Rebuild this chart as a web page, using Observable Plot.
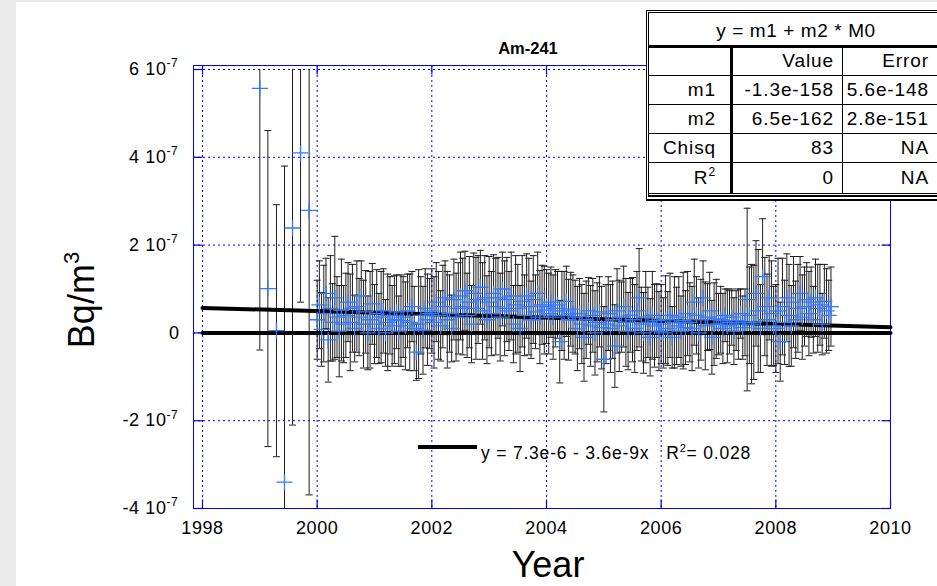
<!DOCTYPE html>
<html><head><meta charset="utf-8">
<script src="https://cdn.jsdelivr.net/npm/d3@7"></script>
<script src="https://cdn.jsdelivr.net/npm/@observablehq/plot@0.6"></script>
<style>
html,body{margin:0;padding:0;}
body{width:937px;height:586px;background:#ebebeb;position:relative;overflow:hidden;font-family:"Liberation Sans",Arial,Helvetica,sans-serif;}
#panel{position:absolute;left:16px;top:2px;width:921px;height:584px;background:#fff;}
#chart{position:absolute;left:16px;top:2px;}
.abs{position:absolute;white-space:nowrap;color:#000;line-height:1;}
.ln{position:absolute;background:#000;}
#tbl{position:absolute;left:646px;top:10px;width:300px;height:191px;box-sizing:border-box;border:3px double #000;border-bottom:6px double #000;background:#fff;}
.cell{position:absolute;white-space:nowrap;font-size:19px;letter-spacing:0.9px;text-align:right;}
</style></head><body>
<div id="panel"></div>
<div id="chart"></div>
<div id="overlay"></div>
<script>
// ---- data (values and errors in units of 1e-9 Bq/m3) ----
const UNIT = 1e-9;
const earlyYears  = [1999.0, 1999.14, 1999.29, 1999.43, 1999.57, 1999.71, 1999.86];
const earlyValues = [557, 101, 5, -340, 239, 410, 279];
const earlyErrors = [596, 360, 287, 720, 449, 340, 648];

const mainStart = 2000;
const samplesPerYear = 26; // biweekly samples
const mainValues = [
 30,64,8,44,90,-16,56,24,80,36,4,52,20,
 40,70,24,56,10,60,36,84,20,48,0,30,66,
 20,44,10,36,50,0,24,40,16,30,48,4,28,
 36,16,50,24,60,10,-44,20,40,6,56,30,44,
 50,24,70,40,16,60,80,30,44,10,76,36,56,
 84,60,96,40,70,20,90,56,76,104,50,80,30,
 70,44,90,60,80,36,100,56,76,50,84,20,64,
 56,10,72,40,84,60,30,76,48,90,36,64,52,
 60,44,70,36,56,64,-20,50,40,72,30,54,44,
 36,10,44,20,-10,30,50,16,40,0,24,48,12,
 -60,20,44,10,30,-30,50,16,36,60,24,4,40,
 30,10,50,80,20,0,36,24,-10,40,16,28,4,
 20,0,30,10,40,-10,24,16,36,4,28,12,44,
 24,10,70,40,0,30,80,16,36,50,-10,20,32,
 20,30,10,40,16,24,36,4,28,20,44,12,24,
 76,40,20,24,90,50,10,128,60,30,80,44,16,
 10,50,-20,60,24,80,40,16,70,30,56,90,36,
 60,76,44,70,30,80,56,64,20,72,50,40,60
];
const mainErrors = [
 90,100,84,110,80,96,120,88,140,92,104,116,88,
 96,90,110,100,76,104,88,80,100,94,84,110,92,
 90,100,80,104,96,76,110,88,92,100,84,80,104,
 92,100,84,110,80,96,64,124,88,100,90,104,80,
 96,104,90,100,80,94,84,110,88,76,92,100,104,
 100,110,90,96,104,88,92,116,100,84,110,96,100,
 104,96,88,110,92,100,84,108,96,90,100,88,112,
 100,98,104,92,96,110,88,100,84,94,106,90,100,
 84,92,80,96,88,76,94,90,100,80,92,84,88,
 84,96,80,90,100,88,76,92,84,96,90,80,94,
 120,90,84,100,88,94,96,104,80,92,100,88,84,
 96,100,90,112,84,92,104,80,88,100,94,84,90,
 90,80,100,84,96,70,104,88,92,80,110,84,96,
 90,96,98,88,80,92,84,100,76,88,84,94,90,
 70,76,80,60,84,72,64,76,68,80,56,72,76,
 208,110,136,130,120,140,100,132,112,104,96,120,90,
 100,120,90,110,96,100,116,92,104,88,100,84,96,
 90,84,96,80,76,88,100,92,70,84,96,80,90
];

// linear fit (as drawn) and the m1 + m2*M0 fit
const fitYears  = [1998, 2010];
const fitValues = [5.7e-8, 1.3e-8];
const zeroFitValues = [0, 0];

// axes
const xDomain = [1998, 2010];
const yDomain = [-4e-7, 6e-7];
const xTicks = [1998, 2000, 2002, 2004, 2006, 2008, 2010];
const xGrid  = [1998, 2000, 2002, 2004, 2006, 2008];
const yTicks = [-4e-7, -2e-7, 0, 2e-7, 4e-7, 6e-7];
const yGrid  = [-2e-7, 0, 2e-7, 4e-7, 6e-7];
const yTickMantissa = ["-4 10", "-2 10", "0", "2 10", "4 10", "6 10"];
const yTickExponent = ["-7", "-7", "", "-7", "-7", "-7"];

// texts
const titleText = "Am-241";
const xLabel = "Year";
const yLabelMain = "Bq/m";
const yLabelSup = "3";
const legendText = "y = 7.3e-6 - 3.6e-9x";
const legendR2 = "= 0.028";

// fit table
const tableTitle = "y = m1 + m2 * M0";
const tableHeader = ["", "Value", "Error"];
const tableRowLabels = ["m1", "m2", "Chisq", "R"];
const tableRowSup = ["", "", "", "2"];
const tableValues = ["-1.3e-158", "6.5e-162", "83", "0"];
const tableErrors = ["5.6e-148", "2.8e-151", "NA", "NA"];

// ---- build records ----
const records = [];
earlyYears.forEach((y, i) => records.push({year: y, value: earlyValues[i]*UNIT, err: earlyErrors[i]*UNIT}));
mainValues.forEach((v, i) => records.push({year: mainStart + i/samplesPerYear, value: v*UNIT, err: mainErrors[i]*UNIT}));
records.forEach(d => { d.lo = d.value - d.err; d.hi = d.value + d.err; });
const yMin = yDomain[0], yMax = yDomain[1];
const hiCaps = records.filter(d => d.hi <= yMax && d.hi >= yMin);
const loCaps = records.filter(d => d.lo >= yMin && d.lo <= yMax);
const fit = fitYears.map((x, i) => ({x, y: fitValues[i]}));
const zfit = fitYears.map((x, i) => ({x, y: zeroFitValues[i]}));
const yLab = yTicks.map((v, i) => ({v, m: yTickMantissa[i], e: yTickExponent[i]}));

// ---- symbols ----
const sym = (f) => ({draw: f});
const crossSym = sym(c => { c.moveTo(-8,0); c.lineTo(8,0); c.moveTo(0,-8); c.lineTo(0,8); });
const capSym   = sym(c => { c.moveTo(-3.5,0); c.lineTo(3.5,0); });
const tRight   = sym(c => { c.moveTo(0,0); c.lineTo(9,0); });
const tLeft    = sym(c => { c.moveTo(0,0); c.lineTo(-9,0); });
const tUp      = sym(c => { c.moveTo(0,0); c.lineTo(0,-9); });
const tDown    = sym(c => { c.moveTo(0,0); c.lineTo(0,9); });

const BLUE = "#0000ff";
const CROSS = "#3278ff";
const BAR = "#1e1e1e";

const plot = Plot.plot({
  width: 921, height: 584,
  marginLeft: 177, marginRight: 47, marginTop: 63, marginBottom: 78,
  insetLeft: 9, insetTop: 4,
  x: {domain: xDomain, axis: null},
  y: {domain: yDomain, axis: null},
  style: {fontFamily: "'Liberation Sans', Arial, sans-serif", background: "transparent", letterSpacing: "0.6px", overflow: "visible"},
  marks: [
    Plot.ruleX(xGrid, {x: d => d, stroke: BLUE, strokeDasharray: "2,3", strokeWidth: 1}),
    Plot.ruleY(yGrid, {y: d => d, stroke: BLUE, strokeDasharray: "2,3", strokeWidth: 1}),
    Plot.frame({stroke: BLUE, strokeWidth: 1}),
    Plot.dot(yTicks, {y: d => d, frameAnchor: "left", symbol: tRight, r: 3, stroke: BLUE, fill: "none", strokeWidth: 1.2}),
    Plot.dot(yTicks, {y: d => d, frameAnchor: "right", symbol: tLeft, r: 3, stroke: BLUE, fill: "none", strokeWidth: 1.2}),
    Plot.dot(xTicks, {x: d => d, frameAnchor: "bottom", symbol: tUp, r: 3, stroke: BLUE, fill: "none", strokeWidth: 1.2}),
    Plot.dot(xTicks, {x: d => d, frameAnchor: "top", symbol: tDown, r: 3, stroke: BLUE, fill: "none", strokeWidth: 1.2}),
    // tick labels
    Plot.text(xTicks, {x: d => d, text: d => String(d), frameAnchor: "bottom", lineAnchor: "top", dy: 13, fontSize: 18, fill: "#000"}),
    Plot.text(yLab.filter(d => d.e), {y: "v", text: "m", frameAnchor: "left", textAnchor: "end", dx: -27, fontSize: 18, fill: "#000"}),
    Plot.text(yLab.filter(d => d.e), {y: "v", text: "e", frameAnchor: "left", textAnchor: "start", dx: -27, dy: -6, fontSize: 12, fill: "#000"}),
    Plot.text(yLab.filter(d => !d.e), {y: "v", text: "m", frameAnchor: "left", textAnchor: "end", dx: -14, fontSize: 18, fill: "#000"}),
    // error bars
    Plot.ruleX(records, {x: "year", y1: d => Math.max(d.lo, yMin), y2: d => Math.min(d.hi, yMax), stroke: BAR, strokeWidth: 1}),
    Plot.dot(hiCaps, {x: "year", y: "hi", symbol: capSym, r: 3, stroke: BAR, fill: "none", strokeWidth: 1}),
    Plot.dot(loCaps, {x: "year", y: "lo", symbol: capSym, r: 3, stroke: BAR, fill: "none", strokeWidth: 1}),
    // fits
    Plot.line(zfit, {x: "x", y: "y", stroke: "#000", strokeWidth: 4}),
    Plot.line(fit, {x: "x", y: "y", stroke: "#000", strokeWidth: 4}),
    // data crosses
    Plot.dot(records, {x: "year", y: "value", symbol: crossSym, r: 3, stroke: CROSS, fill: "none", strokeWidth: 1.3})
  ]
});
document.getElementById("chart").appendChild(plot);

// ---- overlay texts, legend, table ----
const ov = document.getElementById("overlay");
function add(html, style, cls) {
  const d = document.createElement("div");
  d.className = cls || "abs";
  d.innerHTML = html;
  Object.assign(d.style, style);
  ov.appendChild(d);
  return d;
}
add(titleText, {left: "528px", top: "40px", fontSize: "16.5px", fontWeight: "bold", transform: "translateX(-50%)"});
add(xLabel, {left: "548px", top: "547px", fontSize: "36px", transform: "translateX(-50%)"});
add(yLabelMain + '<span style="font-size:22px;position:relative;top:-15px">' + yLabelSup + '</span>',
    {left: "82px", top: "300px", fontSize: "36px", transform: "translate(-50%,-50%) rotate(-90deg)"});
add("", {left: "418px", top: "445px", width: "59px", height: "4px"}, "ln");
add(legendText + '&nbsp;&nbsp; R<span style="font-size:11px;position:relative;top:-7px">2</span>' + legendR2,
    {left: "481px", top: "444.5px", fontSize: "17.5px", letterSpacing: "0.8px"});

// table
const tbl = document.createElement("div");
tbl.id = "tbl";
document.body.appendChild(tbl);
function tline(l, t, w, h) {
  const d = document.createElement("div");
  d.className = "ln";
  Object.assign(d.style, {left: (l-646)+"px", top: (t-10)+"px", width: w+"px", height: h+"px"});
  tbl.appendChild(d);
}
function tcell(html, right, top, h, align) {
  const d = document.createElement("div");
  d.className = "cell";
  d.innerHTML = html;
  Object.assign(d.style, {top: (top-10)+"px", height: h+"px", lineHeight: h+"px"});
  if (align === "center") { d.style.left = "0px"; d.style.width = "294px"; d.style.textAlign = "center"; d.style.letterSpacing = "0.6px"; }
  else { d.style.right = (943 - right) + "px"; }
  tbl.appendChild(d);
}
tline(646, 42, 300, 2.5);
[72, 101, 130, 159, 190].forEach(y => tline(646, y, 300, 1));
tline(727, 44, 3, 146);
tline(839, 44, 1, 146);
tcell(tableTitle, 0, 13, 29, "center");
const rowTops = [44, 73, 102, 131, 160];
const rowH = [28, 28, 28, 28, 30];
tcell(tableHeader[1], 834, rowTops[0], rowH[0]);
tcell(tableHeader[2], 929, rowTops[0], rowH[0]);
tableRowLabels.forEach((lab, i) => {
  const sup = tableRowSup[i] ? '<span style="font-size:12px;position:relative;top:-8px">' + tableRowSup[i] + '</span>' : '';
  tcell(lab + sup, 716, rowTops[i+1], rowH[i+1]);
  tcell(tableValues[i], 834, rowTops[i+1], rowH[i+1]);
  tcell(tableErrors[i], 929, rowTops[i+1], rowH[i+1]);
});
</script>
</body></html>
